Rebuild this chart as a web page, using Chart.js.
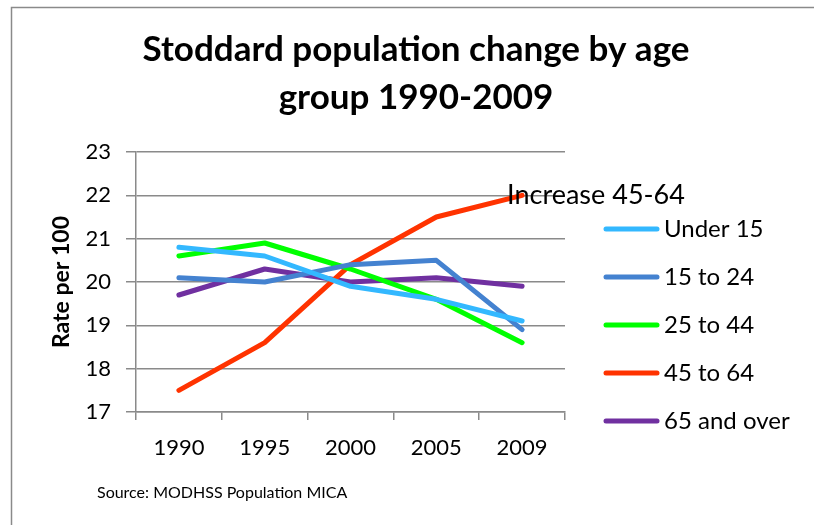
<!DOCTYPE html>
<html>
<head>
<meta charset="utf-8">
<script src="https://cdn.jsdelivr.net/npm/chart.js@4"></script>
<style>
  html, body { margin: 0; padding: 0; background: #ffffff; }
  #wrap { width: 814px; height: 525px; }
</style>
</head>
<body>
<div id="wrap"><canvas id="c" width="814" height="525"></canvas></div>
<script>
const categories = ['1990', '1995', '2000', '2005', '2009'];
const under15   = [20.8, 20.6, 19.9, 19.6, 19.1];
const age15to24 = [20.1, 20.0, 20.4, 20.5, 18.9];
const age25to44 = [20.6, 20.9, 20.3, 19.6, 18.6];
const age45to64 = [17.5, 18.6, 20.4, 21.5, 22.0];
const age65plus = [19.7, 20.3, 20.0, 20.1, 19.9];
const seriesNames = ['Under 15', '15 to 24', '25 to 44', '45 to 64', '65 and over'];
const seriesColors = ['#33b8ff', '#4482d0', '#00ff00', '#ff3300', '#7030a0'];
const titleLines = ['Stoddard population change by age', 'group 1990-2009'];
const yTitle = 'Rate per 100';
const annotationText = 'Increase 45-64';
const sourceText = 'Source: MODHSS Population MICA';

const FONT = 'Lato, "Liberation Sans", sans-serif';
const GRID = '#8a8a8a';

const seriesValues = [under15, age15to24, age25to44, age45to64, age65plus];

const decorPlugin = {
  id: 'decor',
  beforeDraw(chart) {
    const ctx = chart.ctx;
    ctx.save();
    ctx.fillStyle = '#ffffff';
    ctx.fillRect(0, 0, chart.width, chart.height);
    ctx.strokeStyle = GRID;
    ctx.lineWidth = 1.5;
    ctx.beginPath();
    ctx.moveTo(11.5, chart.height + 5);
    ctx.lineTo(11.5, 7.5);
    ctx.lineTo(chart.width + 5, 7.5);
    ctx.stroke();
    ctx.restore();
  },
  afterDraw(chart) {
    const ctx = chart.ctx;
    ctx.save();
    // Title
    ctx.fillStyle = '#000000';
    ctx.textAlign = 'center';
    ctx.textBaseline = 'alphabetic';
    ctx.font = 'bold 35px ' + FONT;
    ctx.fillText(titleLines[0], 416, 61);
    ctx.fillText(titleLines[1], 416, 109);

    // Annotation on the 45-64 series last point
    const meta = chart.getDatasetMeta(3);
    const lastPt = meta.data[meta.data.length - 1];
    ctx.textAlign = 'left';
    ctx.textBaseline = 'middle';
    ctx.font = '27px ' + FONT;
    ctx.fillText(annotationText, lastPt.x - 15, lastPt.y);

    // Legend
    chart.data.datasets.forEach((ds, i) => {
      const y = 229 + 48 * i;
      ctx.strokeStyle = ds.borderColor;
      ctx.lineWidth = 5;
      ctx.lineCap = 'round';
      ctx.beginPath();
      ctx.moveTo(606, y);
      ctx.lineTo(657, y);
      ctx.stroke();
      ctx.fillStyle = '#000000';
      ctx.font = '24px ' + FONT;
      ctx.textAlign = 'left';
      ctx.textBaseline = 'middle';
      ctx.fillText(ds.label, 664, y);
    });

    // Source
    ctx.font = '16px ' + FONT;
    ctx.textAlign = 'left';
    ctx.textBaseline = 'alphabetic';
    ctx.fillText(sourceText, 97, 498);
    ctx.restore();
  }
};

new Chart(document.getElementById('c'), {
  type: 'line',
  data: {
    labels: categories,
    datasets: seriesValues.map((vals, i) => ({
      label: seriesNames[i],
      data: vals,
      borderColor: seriesColors[i],
      backgroundColor: seriesColors[i],
      borderWidth: 5,
      borderCapStyle: 'round',
      borderJoinStyle: 'round',
      pointRadius: 0,
      pointHoverRadius: 0,
      tension: 0,
      fill: false
    }))
  },
  options: {
    responsive: false,
    animation: false,
    devicePixelRatio: 1,
    layout: { padding: { left: 0, top: 152, right: 249, bottom: 53 } },
    plugins: {
      legend: { display: false },
      title: { display: false },
      tooltip: { enabled: false }
    },
    scales: {
      x: {
        offset: true,
        afterFit(scale) { scale.height = 60; },
        grid: {
          offset: true,
          drawOnChartArea: false,
          drawTicks: true,
          tickLength: 8,
          color: GRID,
          lineWidth: 1.5
        },
        border: { color: GRID, width: 1.5 },
        ticks: {
          color: '#000000',
          font: { family: FONT, size: 22 },
          padding: 15,
          maxRotation: 0
        }
      },
      y: {
        min: 17,
        max: 23,
        afterFit(scale) { scale.width = 136; },
        grid: {
          color: GRID,
          lineWidth: 1.5,
          drawTicks: true,
          tickLength: 10
        },
        border: { color: GRID, width: 1.5 },
        ticks: {
          stepSize: 1,
          color: '#000000',
          font: { family: FONT, size: 22 },
          padding: 15
        },
        title: {
          display: true,
          text: yTitle,
          color: '#000000',
          font: { family: FONT, size: 23, weight: 'bold' },
          padding: { top: 48, bottom: 0 }
        }
      }
    }
  },
  plugins: [decorPlugin]
});
</script>
</body>
</html>
